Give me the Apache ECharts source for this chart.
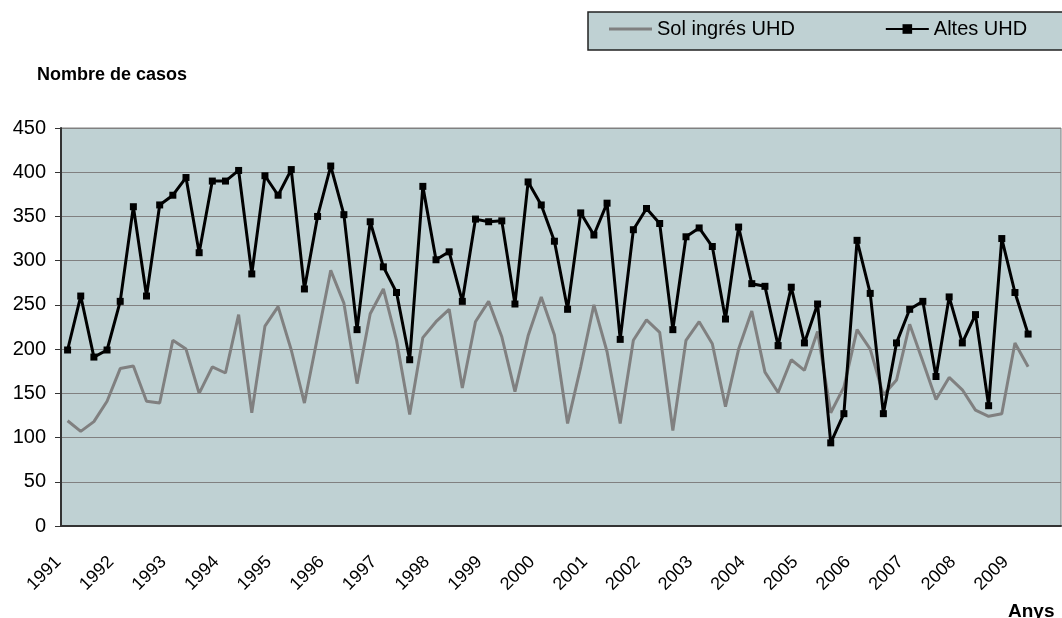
<!DOCTYPE html>
<html>
<head>
<meta charset="utf-8">
<script src="https://cdn.jsdelivr.net/npm/echarts@6/dist/echarts.min.js"></script>
<style>
  html, body { margin: 0; padding: 0; background: #fff; }
  #chart { width: 1062px; height: 618px; }
</style>
</head>
<body>
<div id="chart"></div>
<script>
// anys (etiquetes de l'eix X, una cada 4 trimestres)
var years = ['1991','1992','1993','1994','1995','1996','1997','1998','1999','2000',
             '2001','2002','2003','2004','2005','2006','2007','2008','2009'];

// Altes UHD (trimestral)
var altesUHD = [199,260,191,199, 254,361,260,363, 374,394,309,390, 390,402,285,396,
                374,403,268,350, 407,352,222,344, 293,264,188,384, 301,310,254,347,
                344,345,251,389, 363,322,245,354, 329,365,211,335, 359,342,222,327,
                337,316,234,338, 274,271,204,270, 207,251,94,127, 323,263,127,207,
                245,254,169,259, 207,239,136,325, 264,217];

// Sol ingrés UHD (trimestral)
var solIngres = [119,107,118,141, 178,181,141,139, 210,200,150,180, 173,239,128,226,
                 248,199,139,214, 289,252,161,240, 268,210,126,213, 231,245,156,231,
                 254,214,152,215, 259,216,116,180, 250,197,116,210, 233,219,108,210,
                 231,206,135,200, 243,174,151,188, 176,220,128,157, 222,200,148,165,
                 228,186,143,168, 154,131,124,127, 207,180];

// 4 categories per any
var categories = [];
for (var i = 0; i < years.length * 4; i++) {
  categories.push(i % 4 === 0 ? years[i / 4] : '');
}

var myChart = echarts.init(document.getElementById('chart'));
myChart.setOption({
  animation: false,
  textStyle: { fontFamily: 'Liberation Sans, Arial, sans-serif' },
  title: [
    { text: 'Nombre de casos', left: 32, top: 61,
      textStyle: { fontSize: 18, fontWeight: 'bold', color: '#000' } },
    { text: 'Anys', left: 1003, top: 597,
      textStyle: { fontSize: 19, fontWeight: 'bold', color: '#000' } }
  ],
  // caixa de la llegenda (surt pel costat dret)
  graphic: [{
    type: 'rect',
    z: 0,
    shape: { x: 588, y: 12, width: 500, height: 38 },
    style: { fill: '#BFD1D3', stroke: '#222', lineWidth: 1.5 }
  }],
  legend: {
    left: 609, top: 19,
    padding: 0,
    itemWidth: 43,
    itemHeight: 12,
    itemGap: 90,
    textStyle: { fontSize: 20, color: '#000' },
    data: [
      { name: 'Sol ingrés UHD', icon: 'path://M0,0L43,0L43,3L0,3Z' },
      'Altes UHD'
    ]
  },
  grid: {
    left: 61, right: 1, top: 128, bottom: 92,
    show: true,
    backgroundColor: '#BFD1D3',
    borderColor: '#808080',
    borderWidth: 1
  },
  xAxis: {
    type: 'category',
    data: categories,
    boundaryGap: true,
    axisLine: { lineStyle: { color: '#333', width: 2 } },
    axisTick: { interval: 0, length: 6, lineStyle: { color: '#333' } },
    axisLabel: { interval: 0, rotate: 45, fontSize: 18, color: '#000',
                 margin: 24, padding: [0, 13, 0, 0] },
    splitLine: { show: false }
  },
  yAxis: {
    type: 'value',
    min: 0, max: 450, interval: 50,
    axisLine: { show: true, lineStyle: { color: '#333', width: 2 } },
    axisTick: { show: true, length: 6, lineStyle: { color: '#333' } },
    axisLabel: { fontSize: 20, color: '#000', margin: 15 },
    splitLine: { lineStyle: { color: '#808080', width: 1 } }
  },
  series: [
    {
      name: 'Sol ingrés UHD',
      type: 'line',
      data: solIngres,
      symbol: 'none',
      lineStyle: { color: '#808080', width: 3 },
      itemStyle: { color: '#808080' },
      z: 2
    },
    {
      name: 'Altes UHD',
      type: 'line',
      data: altesUHD,
      symbol: 'rect',
      symbolSize: 7,
      lineStyle: { color: '#000', width: 3 },
      itemStyle: { color: '#000' },
      z: 3
    }
  ]
});
</script>
</body>
</html>
